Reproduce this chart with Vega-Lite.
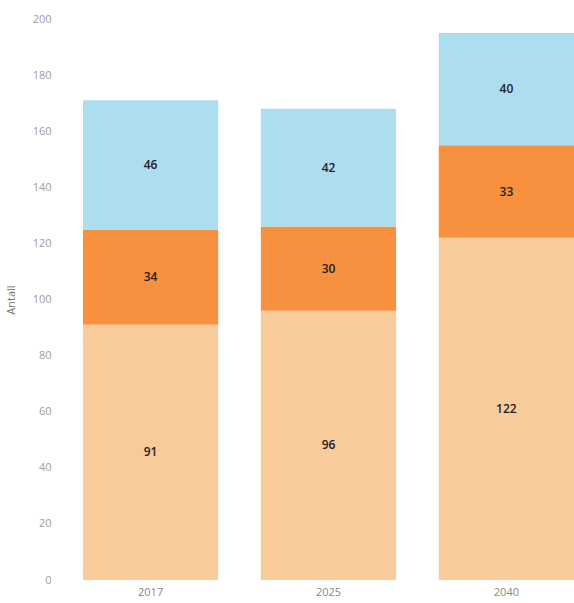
{
  "$schema": "https://vega.github.io/schema/vega-lite/v6.json",
  "autosize": "none",
  "width": 514,
  "height": 561,
  "padding": {"left": 60, "top": 19, "right": 0, "bottom": 23},
  "background": "white",
  "config": {"view": {"stroke": null}, "font": "Open Sans"},
  "data": {"values": [
    {"year": "2017", "grp": "A", "ord": 1, "v": 91},
    {"year": "2017", "grp": "B", "ord": 2, "v": 34},
    {"year": "2017", "grp": "C", "ord": 3, "v": 46},
    {"year": "2025", "grp": "A", "ord": 1, "v": 96},
    {"year": "2025", "grp": "B", "ord": 2, "v": 30},
    {"year": "2025", "grp": "C", "ord": 3, "v": 42},
    {"year": "2040", "grp": "A", "ord": 1, "v": 122},
    {"year": "2040", "grp": "B", "ord": 2, "v": 33},
    {"year": "2040", "grp": "C", "ord": 3, "v": 40}
  ]},
  "transform": [
    {"stack": "v", "groupby": ["year"], "sort": [{"field": "ord", "order": "ascending"}], "as": ["y0", "y1"]},
    {"calculate": "(datum.y0 + datum.y1) / 2", "as": "mid"}
  ],
  "layer": [
    {
      "mark": {"type": "bar"},
      "encoding": {
        "x": {"field": "year", "type": "nominal",
              "scale": {"paddingInner": 0.24, "paddingOuter": 0.0646, "align": 1},
              "axis": {"title": null, "labelAngle": 0, "ticks": false, "domain": false, "labelColor": "#888888", "labelFontSize": 11, "labelPadding": 6}},
        "y": {"field": "y0", "type": "quantitative",
              "scale": {"domain": [0, 200]},
              "axis": {"title": "Antall", "values": [0,20,40,60,80,100,120,140,160,180,200], "grid": false, "ticks": false, "domain": false, "labelColor": "#a0a0a0", "labelFontSize": 11, "labelPadding": 9, "titleColor": "#777777", "titleFontSize": 11, "titleFontWeight": "normal", "titlePadding": 16}},
        "y2": {"field": "y1"},
        "color": {"field": "grp", "type": "nominal",
                  "scale": {"domain": ["A", "B", "C"], "range": ["#F8CB9B", "#F7913F", "#ADDEEF"]},
                  "legend": null}
      }
    },
    {
      "mark": {"type": "text", "fontSize": 12, "fontWeight": 600, "color": "#222222"},
      "encoding": {
        "x": {"field": "year", "type": "nominal"},
        "y": {"field": "mid", "type": "quantitative"},
        "text": {"field": "v", "type": "quantitative"}
      }
    }
  ]
}
